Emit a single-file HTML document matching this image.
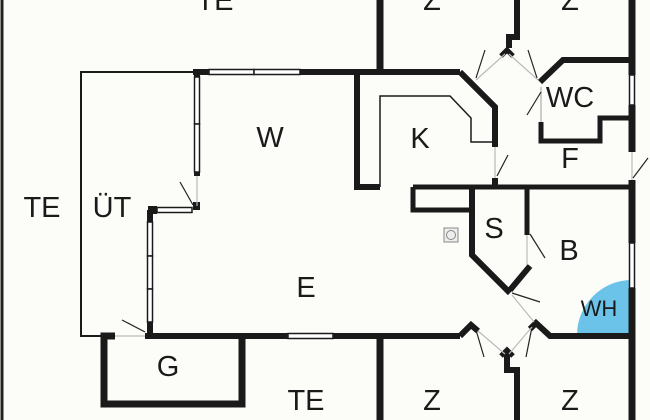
<!DOCTYPE html>
<html><head><meta charset="utf-8"><style>
html,body{margin:0;padding:0;background:#fcfcf8;}
svg{display:block}
text{font-family:"Liberation Sans",sans-serif;fill:#1a1a1a;}
</style></head><body>
<svg width="650" height="420" viewBox="0 0 650 420" xmlns="http://www.w3.org/2000/svg">
<rect width="650" height="420" fill="#fcfcf8"/>
<!-- WH -->
<path d="M632 335 L577 335 A55 55 0 0 1 632 280 Z" fill="#6cc3ea"/>
<!-- left border -->
<line x1="2" y1="0" x2="2" y2="420" stroke="#222" stroke-width="3"/>
<g fill="none" stroke="#1a1a1a" stroke-linejoin="miter">
<polyline points="193,72 81,72 81,336 103,336" stroke-width="2"/>
<line x1="193" y1="72" x2="460" y2="72" stroke-width="6"/>
<polyline points="460,72 495,107 495,147" stroke-width="6"/>
<line x1="495" y1="178" x2="495" y2="187" stroke-width="6"/>
<line x1="380" y1="0" x2="380" y2="72" stroke-width="7"/>
<polyline points="357,72 357,187 380,187" stroke-width="6"/>
<polyline points="380,187 380,96 450,96 471,118 471,142 492,142" stroke-width="1.5"/>
<polyline points="517,0 517,37 509,37 509,48" stroke-width="6"/>
<polyline points="501,56 507,50 513,56" stroke-width="5"/>
<polyline points="540,82 563,60 632,60" stroke-width="6"/>
<polyline points="541,122 541,141 600,141 600,118 632,118" stroke-width="5"/>
<line x1="541" y1="87" x2="541" y2="122" stroke="#ccc" stroke-width="2"/>
<line x1="632" y1="0" x2="632" y2="75" stroke-width="7"/>
<line x1="632" y1="105" x2="632" y2="152" stroke-width="7"/>
<line x1="632" y1="180" x2="632" y2="243" stroke-width="7"/>
<line x1="632" y1="288" x2="632" y2="420" stroke-width="7"/>
<line x1="413" y1="187" x2="632" y2="187" stroke-width="5"/>
<line x1="527" y1="187" x2="527" y2="235" stroke-width="5"/>
<polyline points="413,187 413,210 472,210" stroke-width="5"/>
<polyline points="472,187 472,255 510,293" stroke-width="6"/>
<line x1="530" y1="266" x2="510" y2="290" stroke-width="6"/>
<line x1="145" y1="336" x2="288" y2="336" stroke-width="6"/>
<line x1="333" y1="336" x2="460" y2="336" stroke-width="6"/>
<polyline points="460,336 471,325 478,331" stroke-width="6"/>
<polyline points="501,356 507,350 513,356" stroke-width="5"/>
<polyline points="507,352 507,370 517,370 517,420" stroke-width="6"/>
<polyline points="530,329 536,323 550,336 632,336" stroke-width="6"/>
<line x1="380" y1="336" x2="380" y2="420" stroke-width="7"/>
<polyline points="115,336 104,336 104,404 242,404 242,336" stroke-width="7"/>
<line x1="197" y1="72" x2="197" y2="77" stroke-width="6"/>
<line x1="197" y1="172" x2="197" y2="176" stroke-width="6"/>
<line x1="193" y1="206" x2="200" y2="206" stroke-width="8"/>
<line x1="148" y1="210" x2="157" y2="210" stroke-width="8"/>
<line x1="150" y1="210" x2="150" y2="222" stroke-width="6"/>
<line x1="150" y1="322" x2="150" y2="336" stroke-width="6"/>
</g>
<g fill="#fff" stroke="#1a1a1a" stroke-width="1.5">
<rect x="209" y="69.5" width="45" height="5"/>
<rect x="254" y="69.5" width="46" height="5"/>
<rect x="194.5" y="77" width="5" height="47"/>
<rect x="194.5" y="124" width="5" height="48"/>
<rect x="157" y="207.5" width="35" height="5"/>
<rect x="147.5" y="222" width="5" height="34"/>
<rect x="147.5" y="256" width="5" height="33"/>
<rect x="147.5" y="289" width="5" height="33"/>
<rect x="288" y="333.5" width="45" height="5"/>
<rect x="629.5" y="75" width="5" height="30"/>
<rect x="629.5" y="243" width="5" height="45"/>
</g>
<g stroke="#222" stroke-width="1.2" fill="none">
<line x1="180" y1="182" x2="193" y2="205"/>
<line x1="122" y1="320" x2="145" y2="332"/>
<line x1="476" y1="78" x2="485" y2="50"/>
<line x1="537" y1="78" x2="528" y2="50"/>
<line x1="541" y1="92" x2="527" y2="115"/>
<line x1="497" y1="176" x2="508" y2="155"/>
<line x1="633" y1="178" x2="648" y2="158"/>
<line x1="530" y1="234" x2="545" y2="258"/>
<line x1="512" y1="293" x2="540" y2="302"/>
<line x1="476" y1="330" x2="484" y2="357"/>
<line x1="532" y1="327" x2="526" y2="357"/>
</g>
<g stroke="#bbb" stroke-width="1.2" fill="none">
<line x1="476" y1="80" x2="505" y2="54"/>
<line x1="538" y1="80" x2="509" y2="54"/>
<line x1="495" y1="147" x2="495" y2="178"/>
<line x1="197" y1="176" x2="197" y2="206"/>
<line x1="115" y1="336" x2="145" y2="336"/>
<line x1="527" y1="235" x2="527" y2="265"/>
<line x1="512" y1="295" x2="534" y2="322"/>
<line x1="478" y1="331" x2="505" y2="354"/>
<line x1="532" y1="327" x2="509" y2="354"/>
<line x1="632" y1="152" x2="632" y2="180"/>
</g>
<rect x="444" y="228" width="14" height="14" fill="#eee" stroke="#888" stroke-width="1"/>
<circle cx="451" cy="235" r="4.5" fill="none" stroke="#888" stroke-width="1"/>
<g font-size="29" text-anchor="middle">
<text x="215" y="10">TE</text>
<text x="432" y="10">Z</text>
<text x="570" y="10">Z</text>
<text x="42" y="217">TE</text>
<text x="112" y="217">ÜT</text>
<text x="270" y="147">W</text>
<text x="420" y="148">K</text>
<text x="570" y="107">WC</text>
<text x="570" y="168">F</text>
<text x="494" y="238">S</text>
<text x="569" y="260">B</text>
<text x="306" y="297">E</text>
<text x="168" y="376">G</text>
<text x="306" y="410">TE</text>
<text x="432" y="410">Z</text>
<text x="570" y="410">Z</text>
<text x="599" y="316" font-size="22">WH</text>
</g>
</svg>
</body></html>
